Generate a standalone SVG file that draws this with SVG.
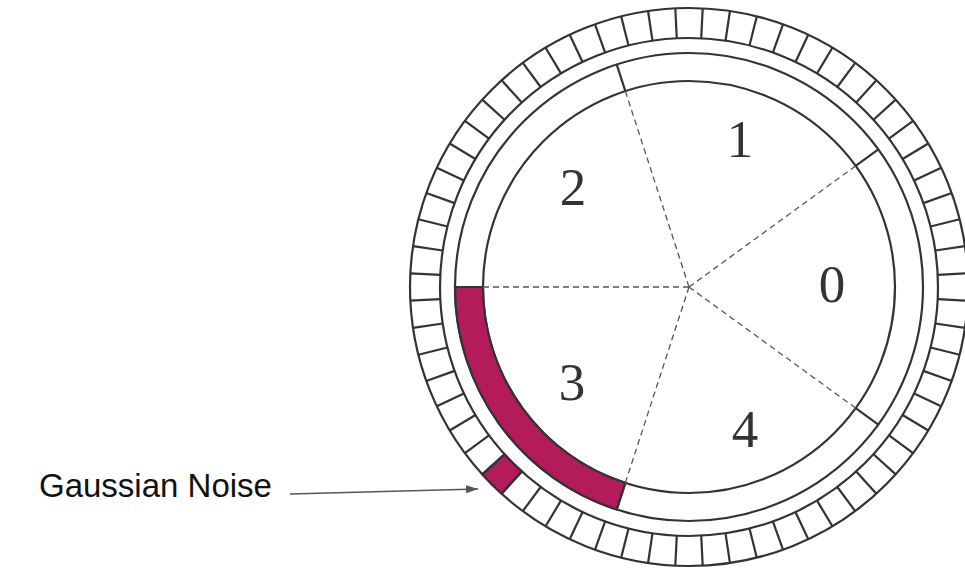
<svg xmlns="http://www.w3.org/2000/svg" xmlns:xlink="http://www.w3.org/1999/xlink" width="965" height="571" viewBox="0 0 965 571">
<style>
.ring{fill:none;stroke:#333;stroke-width:2.2}
.tick{stroke:#333;stroke-width:2.2}
.dash{stroke:#555;stroke-width:1.3;stroke-dasharray:6 4;fill:none}
.red{fill:#b31b5b;stroke:#333;stroke-width:2.2}
.num{font-family:"Liberation Serif","DejaVu Serif",serif;font-size:53px;fill:#333;text-anchor:middle}
.lbl{font-family:"Liberation Sans",Arial,sans-serif;font-size:33px;fill:#111}
</style>
<defs>
<line id="div" x1="938" y1="287" x2="968" y2="287" class="tick"/>
<marker id="arr" markerWidth="12" markerHeight="10" refX="12" refY="5" orient="auto" markerUnits="userSpaceOnUse">
<path d="M0,1 L12,5 L0,9 Z" fill="#555"/>
</marker>
</defs>
<rect width="965" height="571" fill="#fff"/>
<g id="box-ring">
<circle class="ring" cx="689" cy="287" r="279"/>
<circle class="ring" cx="689" cy="287" r="249"/>
<path id="noise-box" class="red" d="M937.70 274.78 A249 249 0 0 1 937.70 299.22 L967.66 300.69 A279 279 0 0 0 967.66 273.31 Z" transform="rotate(135 689 287)"/>
<g id="dividers">
<use xlink:href="#div" transform="rotate(2.8125 689 287)"/>
<use xlink:href="#div" transform="rotate(8.4375 689 287)"/>
<use xlink:href="#div" transform="rotate(14.0625 689 287)"/>
<use xlink:href="#div" transform="rotate(19.6875 689 287)"/>
<use xlink:href="#div" transform="rotate(25.3125 689 287)"/>
<use xlink:href="#div" transform="rotate(30.9375 689 287)"/>
<use xlink:href="#div" transform="rotate(36.5625 689 287)"/>
<use xlink:href="#div" transform="rotate(42.1875 689 287)"/>
<use xlink:href="#div" transform="rotate(47.8125 689 287)"/>
<use xlink:href="#div" transform="rotate(53.4375 689 287)"/>
<use xlink:href="#div" transform="rotate(59.0625 689 287)"/>
<use xlink:href="#div" transform="rotate(64.6875 689 287)"/>
<use xlink:href="#div" transform="rotate(70.3125 689 287)"/>
<use xlink:href="#div" transform="rotate(75.9375 689 287)"/>
<use xlink:href="#div" transform="rotate(81.5625 689 287)"/>
<use xlink:href="#div" transform="rotate(87.1875 689 287)"/>
<use xlink:href="#div" transform="rotate(92.8125 689 287)"/>
<use xlink:href="#div" transform="rotate(98.4375 689 287)"/>
<use xlink:href="#div" transform="rotate(104.0625 689 287)"/>
<use xlink:href="#div" transform="rotate(109.6875 689 287)"/>
<use xlink:href="#div" transform="rotate(115.3125 689 287)"/>
<use xlink:href="#div" transform="rotate(120.9375 689 287)"/>
<use xlink:href="#div" transform="rotate(126.5625 689 287)"/>
<use xlink:href="#div" transform="rotate(132.1875 689 287)"/>
<use xlink:href="#div" transform="rotate(137.8125 689 287)"/>
<use xlink:href="#div" transform="rotate(143.4375 689 287)"/>
<use xlink:href="#div" transform="rotate(149.0625 689 287)"/>
<use xlink:href="#div" transform="rotate(154.6875 689 287)"/>
<use xlink:href="#div" transform="rotate(160.3125 689 287)"/>
<use xlink:href="#div" transform="rotate(165.9375 689 287)"/>
<use xlink:href="#div" transform="rotate(171.5625 689 287)"/>
<use xlink:href="#div" transform="rotate(177.1875 689 287)"/>
<use xlink:href="#div" transform="rotate(182.8125 689 287)"/>
<use xlink:href="#div" transform="rotate(188.4375 689 287)"/>
<use xlink:href="#div" transform="rotate(194.0625 689 287)"/>
<use xlink:href="#div" transform="rotate(199.6875 689 287)"/>
<use xlink:href="#div" transform="rotate(205.3125 689 287)"/>
<use xlink:href="#div" transform="rotate(210.9375 689 287)"/>
<use xlink:href="#div" transform="rotate(216.5625 689 287)"/>
<use xlink:href="#div" transform="rotate(222.1875 689 287)"/>
<use xlink:href="#div" transform="rotate(227.8125 689 287)"/>
<use xlink:href="#div" transform="rotate(233.4375 689 287)"/>
<use xlink:href="#div" transform="rotate(239.0625 689 287)"/>
<use xlink:href="#div" transform="rotate(244.6875 689 287)"/>
<use xlink:href="#div" transform="rotate(250.3125 689 287)"/>
<use xlink:href="#div" transform="rotate(255.9375 689 287)"/>
<use xlink:href="#div" transform="rotate(261.5625 689 287)"/>
<use xlink:href="#div" transform="rotate(267.1875 689 287)"/>
<use xlink:href="#div" transform="rotate(272.8125 689 287)"/>
<use xlink:href="#div" transform="rotate(278.4375 689 287)"/>
<use xlink:href="#div" transform="rotate(284.0625 689 287)"/>
<use xlink:href="#div" transform="rotate(289.6875 689 287)"/>
<use xlink:href="#div" transform="rotate(295.3125 689 287)"/>
<use xlink:href="#div" transform="rotate(300.9375 689 287)"/>
<use xlink:href="#div" transform="rotate(306.5625 689 287)"/>
<use xlink:href="#div" transform="rotate(312.1875 689 287)"/>
<use xlink:href="#div" transform="rotate(317.8125 689 287)"/>
<use xlink:href="#div" transform="rotate(323.4375 689 287)"/>
<use xlink:href="#div" transform="rotate(329.0625 689 287)"/>
<use xlink:href="#div" transform="rotate(334.6875 689 287)"/>
<use xlink:href="#div" transform="rotate(340.3125 689 287)"/>
<use xlink:href="#div" transform="rotate(345.9375 689 287)"/>
<use xlink:href="#div" transform="rotate(351.5625 689 287)"/>
<use xlink:href="#div" transform="rotate(357.1875 689 287)"/>
</g>
</g>
<g id="sector-ring">
<circle class="ring" cx="689" cy="287" r="234"/>
<circle class="ring" cx="689" cy="287" r="206"/>
<path id="sector-3-band" class="red" d="M483 287 L455 287 A234 234 0 0 0 616.69 509.55 L625.34 482.92 A206 206 0 0 1 483 287 Z"/>
<line class="tick" x1="625.34" y1="91.08" x2="616.69" y2="64.45"/>
<line class="tick" x1="855.66" y1="165.92" x2="878.31" y2="149.46"/>
<line class="tick" x1="855.66" y1="408.08" x2="878.31" y2="424.54"/>
<line class="tick" x1="625.34" y1="482.92" x2="616.69" y2="509.55"/>
</g>
<g id="connectors">
<line class="dash" x1="689" y1="287" x2="625.34" y2="91.08"/>
<line class="dash" x1="689" y1="287" x2="855.66" y2="165.92"/>
<line class="dash" x1="689" y1="287" x2="855.66" y2="408.08"/>
<line class="dash" x1="689" y1="287" x2="625.34" y2="482.92"/>
<line class="dash" x1="689" y1="287" x2="483" y2="287"/>
<line x1="290" y1="494" x2="478" y2="489" stroke="#555" stroke-width="1.4" marker-end="url(#arr)"/>
</g>
<g id="sector-0"><text class="num" x="832" y="302">0</text></g>
<g id="sector-1"><text class="num" x="740" y="157">1</text></g>
<g id="sector-2"><text class="num" x="573" y="205">2</text></g>
<g id="sector-3"><text class="num" x="572" y="400">3</text></g>
<g id="sector-4"><text class="num" x="745" y="447">4</text></g>
<g id="label-noise"><text class="lbl" x="39" y="497">Gaussian Noise</text></g>
</svg>
